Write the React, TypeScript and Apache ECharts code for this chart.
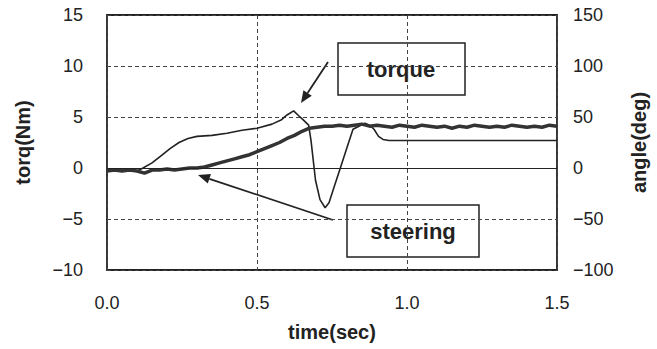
import React, { useEffect, useRef } from "react";
import * as echarts from "echarts";

const xTicks = [0, 0.5, 1.0, 1.5];
const leftTicks = [-10, -5, 0, 5, 10, 15];
const rightTicks = [-100, -50, 0, 50, 100, 150];

const torqueTime = [0, 0.05, 0.1, 0.12, 0.15, 0.18, 0.21, 0.24, 0.27, 0.3, 0.35, 0.4, 0.45, 0.5, 0.55, 0.58, 0.6, 0.622, 0.64, 0.655, 0.672, 0.68, 0.695, 0.71, 0.727, 0.74, 0.76, 0.78, 0.8, 0.82, 0.84, 0.86, 0.875, 0.89, 0.905, 0.92, 0.94, 1.0, 1.2, 1.5];
const torqueNm = [-0.3, -0.2, -0.3, 0.0, 0.5, 1.2, 1.9, 2.5, 2.9, 3.1, 3.2, 3.4, 3.7, 3.9, 4.3, 4.7, 5.2, 5.6, 5.1, 4.7, 4.2, 2.7, -1.2, -3.1, -3.9, -3.4, -1.6, 0.2, 2.0, 3.8, 4.1, 4.4, 4.2, 3.8, 3.1, 2.8, 2.7, 2.7, 2.7, 2.7];

const steerTime = [0, 0.025, 0.05, 0.075, 0.1, 0.125, 0.15, 0.175, 0.2, 0.225, 0.25, 0.275, 0.3, 0.325, 0.35, 0.375, 0.4, 0.425, 0.45, 0.475, 0.5, 0.525, 0.55, 0.575, 0.6, 0.625, 0.65, 0.675, 0.7, 0.725, 0.75, 0.775, 0.8, 0.825, 0.85, 0.875, 0.9, 0.925, 0.95, 0.975, 1.0, 1.025, 1.05, 1.075, 1.1, 1.125, 1.15, 1.175, 1.2, 1.225, 1.25, 1.275, 1.3, 1.325, 1.35, 1.375, 1.4, 1.425, 1.45, 1.475, 1.5];
const steerDeg = [-3, -2, -3, -2, -3, -5, -2, -2, -1, -2, -1, 0, 0, 1, 3, 5, 7, 9, 11, 13, 16, 19, 22, 25, 29, 32, 36, 39, 40, 41, 41, 42, 41, 42, 43, 41, 42, 41, 40, 42, 41, 40, 42, 41, 40, 41, 39, 41, 40, 42, 41, 40, 41, 40, 42, 41, 40, 41, 40, 42, 41];

const FONT = "'Liberation Sans', Arial, sans-serif";
const INK = "#222";

function arrow(x1: number, y1: number, x2: number, y2: number) {
  const dx = x2 - x1, dy = y2 - y1;
  const len = Math.sqrt(dx * dx + dy * dy);
  const ux = dx / len, uy = dy / len;
  const hl = 12, hw = 5;
  const bx = x2 - ux * hl, by = y2 - uy * hl;
  return [
    { type: "line", shape: { x1, y1, x2: bx, y2: by }, style: { stroke: INK, lineWidth: 1.8 } },
    {
      type: "polygon",
      shape: { points: [[x2, y2], [bx - uy * hw, by + ux * hw], [bx + uy * hw, by - ux * hw]] },
      style: { fill: INK },
    },
  ];
}

export default function App() {
  const ref = useRef<HTMLDivElement>(null);
  useEffect(() => {
    const chart = echarts.init(ref.current!, null, { renderer: "svg" });
    const label = { color: INK, fontSize: 18, fontFamily: FONT };
    chart.setOption({
      animation: false,
      backgroundColor: "#fff",
      grid: { left: 107, right: 98, top: 15, bottom: 79, show: true, borderColor: INK, borderWidth: 1.8, backgroundColor: "transparent" },
      xAxis: {
        type: "value", min: xTicks[0], max: xTicks[xTicks.length - 1], interval: 0.5,
        name: "time(sec)", nameLocation: "middle", nameGap: 52,
        nameTextStyle: { color: INK, fontSize: 20, fontFamily: FONT, fontWeight: "bold" },
        axisLine: { show: false }, axisTick: { show: false },
        axisLabel: { ...label, margin: 24, formatter: (v: number) => v.toFixed(1) },
        splitLine: { show: true, lineStyle: { color: "#444", type: [4, 3], width: 1 } },
      },
      yAxis: [
        {
          type: "value", min: leftTicks[0], max: leftTicks[leftTicks.length - 1], interval: 5,
          name: "torq(Nm)", nameLocation: "middle", nameGap: 74, nameRotate: 90,
          nameTextStyle: { color: INK, fontSize: 20, fontFamily: FONT, fontWeight: "bold" },
          axisLine: { show: false }, axisTick: { show: false },
          axisLabel: { ...label, margin: 24, formatter: (v: number) => (v < 0 ? "\u2212" + Math.abs(v) : String(v)) },
          splitLine: { show: true, lineStyle: { color: "#444", type: [4, 3], width: 1 } },
        },
        {
          type: "value", min: rightTicks[0], max: rightTicks[rightTicks.length - 1], interval: 50,
          position: "right",
          name: "angle(deg)", nameLocation: "middle", nameGap: 72, nameRotate: 90,
          nameTextStyle: { color: INK, fontSize: 20, fontFamily: FONT, fontWeight: "bold" },
          axisLine: { show: false }, axisTick: { show: false },
          axisLabel: { ...label, margin: 16, formatter: (v: number) => (v < 0 ? "\u2212" + Math.abs(v) : String(v)) },
          splitLine: { show: false },
        },
      ],
      series: [
        {
          type: "line", name: "torque", yAxisIndex: 0, showSymbol: false, symbol: "none",
          data: torqueTime.map((t, i) => [t, torqueNm[i]]),
          lineStyle: { color: INK, width: 1.6 },
          markLine: {
            silent: true, symbol: "none", label: { show: false },
            lineStyle: { color: INK, type: "solid", width: 1.2 },
            data: [{ yAxis: 0 }],
          },
        },
        {
          type: "line", name: "steering", yAxisIndex: 1, showSymbol: false, symbol: "none",
          data: steerTime.map((t, i) => [t, steerDeg[i]]),
          lineStyle: { color: "#333", width: 3.5 },
        },
      ],
      graphic: [
        { type: "rect", shape: { x: 338, y: 43, width: 127, height: 52 }, style: { fill: "#fff", stroke: INK, lineWidth: 1.5 } },
        { type: "text", x: 401, y: 69, style: { text: "torque", fill: INK, font: `bold 22px ${FONT}`, textAlign: "center", textVerticalAlign: "middle" } },
        { type: "rect", shape: { x: 347, y: 205, width: 132, height: 52 }, style: { fill: "#fff", stroke: INK, lineWidth: 1.5 } },
        { type: "text", x: 413, y: 231, style: { text: "steering", fill: INK, font: `bold 22px ${FONT}`, textAlign: "center", textVerticalAlign: "middle" } },
        ...arrow(328, 62, 301, 103),
        ...arrow(333, 220, 198, 175),
      ],
    });
    return () => chart.dispose();
  }, []);
  return <div ref={ref} style={{ position: "fixed", left: 0, top: 0, width: 657, height: 349 }} />;
}
